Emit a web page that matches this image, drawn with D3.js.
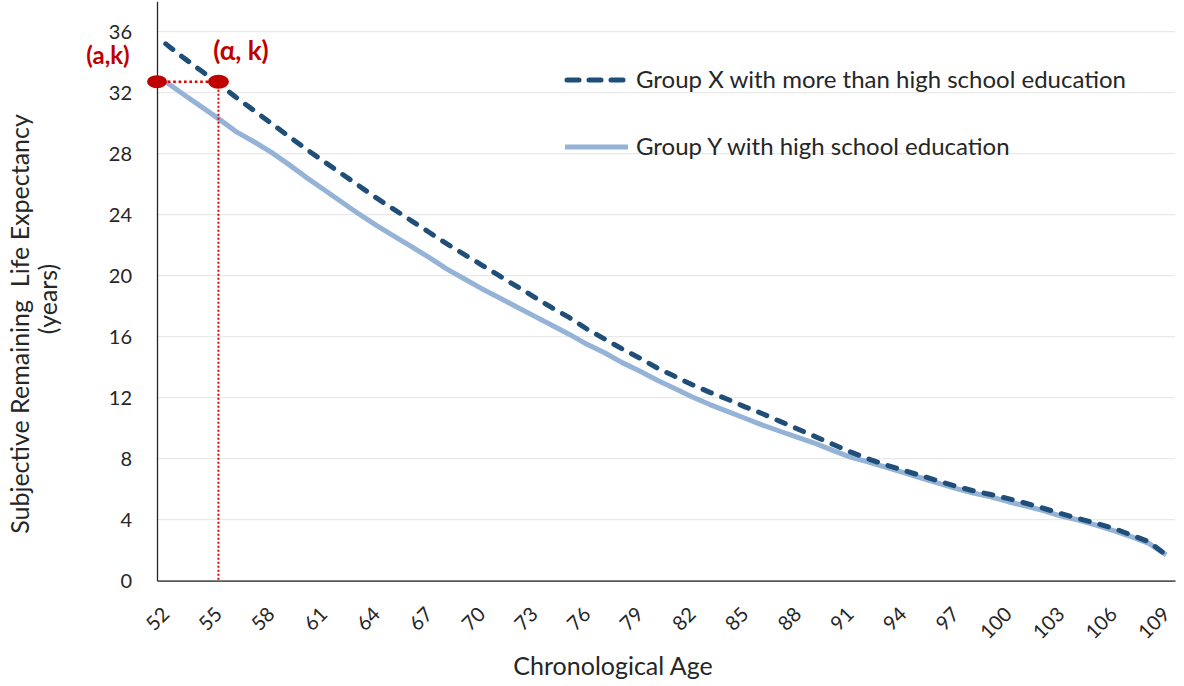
<!DOCTYPE html>
<html><head><meta charset="utf-8">
<script src="https://cdn.jsdelivr.net/npm/d3@7"></script>
<style>body{margin:0;background:#fff}svg{display:block}text{font-family:Lato,"Open Sans",sans-serif}</style>
</head><body>
<svg id="c" width="1184" height="686"></svg>
<script>
const ages = [52,53,54,55,56,57,58,59,60,61,62,63,64,65,66,67,68,69,70,71,72,73,74,75,76,77,78,79,80,81,82,83,84,85,86,87,88,89,90,91,92,93,94,95,96,97,98,99,100,101,102,103,104,105,106,107,108,109];
const groupX = [35.2,34.3,33.45,32.6,31.7,30.85,30.0,29.15,28.3,27.5,26.7,25.9,25.1,24.35,23.6,22.85,22.1,21.4,20.7,20.0,19.3,18.6,17.9,17.25,16.5,15.85,15.2,14.6,13.95,13.4,12.85,12.35,11.9,11.4,10.95,10.45,9.95,9.45,8.95,8.45,8.0,7.6,7.25,6.9,6.55,6.2,5.9,5.65,5.38,5.08,4.75,4.4,4.08,3.76,3.44,3.0,2.56,1.69];
const groupY = [32.72,31.9,31.1,30.3,29.45,28.8,28.1,27.3,26.45,25.65,24.85,24.05,23.3,22.6,21.9,21.2,20.45,19.8,19.15,18.55,17.95,17.35,16.75,16.15,15.5,14.95,14.3,13.75,13.15,12.6,12.05,11.55,11.1,10.65,10.2,9.8,9.4,9.0,8.55,8.1,7.8,7.45,7.1,6.75,6.4,6.05,5.75,5.5,5.18,4.9,4.59,4.24,3.98,3.65,3.28,2.89,2.45,1.69];
const xTickLabels = ["52","55","58","61","64","67","70","73","76","79","82","85","88","91","94","97","100","103","106","109"];
const yTicks = [0,4,8,12,16,20,24,28,32,36];
const seriesNames = ["Group X with more than high school education","Group Y with high school education"];
const xTitle = "Chronological Age";
const yTitleLines = ["Subjective Remaining  Life Expectancy","(years)"];
const alphaAge = 55;
const kValue = 32.72;
const annotLabels = ["(a,k)","(\u03b1, k)"];

const svg = d3.select("#c");
const pLeft = 157, pRight = 1175, pBottom = 580.7, pTop = 1.2;
const x = d3.scaleBand().domain(ages).range([pLeft, pRight]).padding(0);
const xc = a => x(a) + x.bandwidth()/2;
const y = d3.scaleLinear().domain([0, 38]).range([pBottom, pTop]);
const ink = "#262626";

// gridlines
svg.append("g").selectAll("line").data(yTicks.filter(d=>d>0)).join("line")
  .attr("x1", pLeft).attr("x2", pRight).attr("y1", d=>y(d)).attr("y2", d=>y(d))
  .attr("stroke", "#e4e4e4").attr("stroke-width", 1);

// y axis
const yAxis = svg.append("g").attr("transform", `translate(${pLeft},0)`)
  .call(d3.axisLeft(y).tickValues(yTicks).tickSize(0).tickPadding(25));
yAxis.select(".domain").attr("stroke", ink).attr("stroke-width", 1.3);
yAxis.selectAll("text").attr("font-size", 20).attr("fill", ink).style("font-family","Lato");

// x axis
const xAxis = svg.append("g").attr("transform", `translate(0,${pBottom})`)
  .call(d3.axisBottom(x).tickValues(xTickLabels.map(Number)).tickSize(0).tickPadding(0));
xAxis.select(".domain").attr("stroke", "#595959").attr("stroke-width", 1.8);
xAxis.selectAll("text").attr("font-size", 20).attr("fill", ink).style("font-family","Lato")
  .attr("text-anchor", "end").attr("dy", "0.35em")
  .attr("transform", "translate(0,30) rotate(-45)").attr("y", 0).attr("x", 0);

// titles
svg.append("text").attr("x", 613).attr("y", 675).attr("text-anchor","middle")
  .attr("font-size", 25).attr("fill", ink).text(xTitle);
svg.append("text").attr("transform","translate(29,324) rotate(-90)").attr("text-anchor","middle")
  .attr("font-size", 25).attr("fill", ink).style("white-space","pre").text(yTitleLines[0]);
svg.append("text").attr("transform","translate(57,299) rotate(-90)").attr("text-anchor","middle")
  .attr("font-size", 25).attr("fill", ink).text(yTitleLines[1]);

// series
const line = d3.line().x((d,i)=>xc(ages[i])).y(d=>y(d));
svg.append("path").datum(groupY).attr("d", line).attr("fill","none")
  .attr("stroke","#95b3d7").attr("stroke-width",5).attr("stroke-linejoin","round");
svg.append("path").datum(groupX).attr("d", line).attr("fill","none")
  .attr("stroke","#1f4e79").attr("stroke-width",5).attr("stroke-dasharray","9,11")
  .attr("stroke-linecap","round").attr("stroke-linejoin","round");

// annotations
const red = "#c00000";
svg.append("line").attr("x1", pLeft).attr("x2", xc(alphaAge)).attr("y1", y(kValue)).attr("y2", y(kValue))
  .attr("stroke","#e00000").attr("stroke-width",2.6).attr("stroke-dasharray","2.6,2.8");
svg.append("line").attr("x1", xc(alphaAge)).attr("x2", xc(alphaAge)).attr("y1", y(kValue)).attr("y2", pBottom)
  .attr("stroke","#e00000").attr("stroke-width",2).attr("stroke-dasharray","2,2");
svg.append("ellipse").attr("cx", pLeft).attr("cy", y(kValue)).attr("rx",10).attr("ry",6.5).attr("fill",red);
svg.append("ellipse").attr("cx", xc(alphaAge)).attr("cy", y(kValue)).attr("rx",10.5).attr("ry",7).attr("fill",red);
svg.append("text").attr("x", 108).attr("y", 64).attr("text-anchor","middle").attr("font-size",24)
  .attr("font-weight","bold").attr("fill",red).text(annotLabels[0]);
svg.append("text").attr("x", 241).attr("y", 60).attr("text-anchor","middle").attr("font-size",26)
  .attr("font-weight","bold").attr("fill",red).text(annotLabels[1]);

// legend
const lg = svg.append("g");
lg.append("line").attr("x1",567).attr("x2",624).attr("y1",80).attr("y2",80)
  .attr("stroke","#1f4e79").attr("stroke-width",5).attr("stroke-dasharray","12,10").attr("stroke-linecap","round");
lg.append("line").attr("x1",565).attr("x2",628).attr("y1",147).attr("y2",147)
  .attr("stroke","#95b3d7").attr("stroke-width",5);
lg.append("text").attr("x",636).attr("y",88).attr("font-size",24).attr("fill", ink).text(seriesNames[0]);
lg.append("text").attr("x",636).attr("y",155).attr("font-size",24).attr("fill", ink).text(seriesNames[1]);
</script>
</body></html>
